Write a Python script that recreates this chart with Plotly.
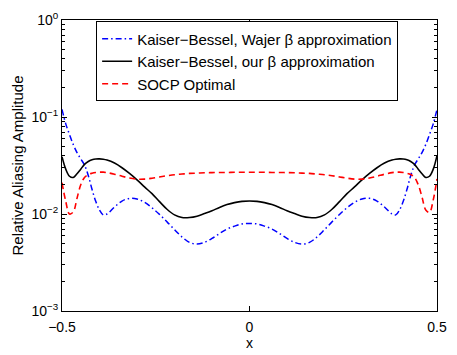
import plotly.graph_objects as go

x_vals = [-0.50, -0.49, -0.48, -0.47, -0.46, -0.45, -0.44, -0.43, -0.42, -0.41,
          -0.40, -0.39, -0.38, -0.36, -0.34, -0.32, -0.30, -0.28, -0.26, -0.24,
          -0.22, -0.20, -0.18, -0.16, -0.14, -0.12, -0.10, -0.08, -0.06, -0.04,
          -0.02, 0.00,
          0.02, 0.04, 0.06, 0.08, 0.10, 0.12, 0.14, 0.16, 0.18, 0.20,
          0.22, 0.24, 0.26, 0.28, 0.30, 0.32, 0.34, 0.36, 0.38, 0.39,
          0.40, 0.41, 0.42, 0.43, 0.44, 0.45, 0.46, 0.47, 0.48, 0.49, 0.50]

kb_wajer = [0.120, 0.085, 0.066, 0.052, 0.043, 0.037, 0.032, 0.025, 0.018, 0.0135,
            0.0110, 0.0098, 0.0100, 0.0118, 0.0136, 0.0145, 0.0143, 0.0132, 0.0116, 0.0099,
            0.0083, 0.0069, 0.0058, 0.0051, 0.0049, 0.0051, 0.0056, 0.0063, 0.0070, 0.0075,
            0.0079, 0.0080,
            0.0079, 0.0075, 0.0070, 0.0063, 0.0056, 0.0051, 0.0049, 0.0051, 0.0058, 0.0069,
            0.0083, 0.0099, 0.0116, 0.0132, 0.0143, 0.0145, 0.0136, 0.0118, 0.0100, 0.0098,
            0.0110, 0.0135, 0.018, 0.025, 0.032, 0.037, 0.043, 0.052, 0.066, 0.085, 0.120]

kb_ours = [0.039, 0.029, 0.0245, 0.0238, 0.026, 0.029, 0.0325, 0.0348, 0.0362, 0.0369,
           0.0370, 0.0367, 0.0360, 0.0335, 0.0300, 0.0262, 0.0225, 0.0190, 0.0162, 0.0134,
           0.0112, 0.0098, 0.0092, 0.0092, 0.0095, 0.0101, 0.0108, 0.0117, 0.0125, 0.0131,
           0.0135, 0.0136,
           0.0135, 0.0131, 0.0125, 0.0117, 0.0108, 0.0101, 0.0095, 0.0092, 0.0092, 0.0098,
           0.0112, 0.0134, 0.0162, 0.0190, 0.0225, 0.0262, 0.0300, 0.0335, 0.0360, 0.0367,
           0.0370, 0.0369, 0.0362, 0.0348, 0.0325, 0.029, 0.026, 0.0238, 0.0245, 0.029, 0.040]

socp = [0.021, 0.0135, 0.0100, 0.0105, 0.0145, 0.020, 0.0238, 0.0255, 0.0263, 0.0268,
        0.0270, 0.0270, 0.0267, 0.0257, 0.0245, 0.0235, 0.0229, 0.0229, 0.0234, 0.0241,
        0.0248, 0.0254, 0.0258, 0.0262, 0.0264, 0.0266, 0.0267, 0.0268, 0.0268, 0.0269,
        0.0269, 0.0269,
        0.0269, 0.0269, 0.0268, 0.0268, 0.0267, 0.0266, 0.0264, 0.0262, 0.0258, 0.0254,
        0.0248, 0.0241, 0.0234, 0.0229, 0.0229, 0.0235, 0.0245, 0.0257, 0.0267, 0.0270,
        0.0270, 0.0268, 0.0263, 0.0255, 0.0238, 0.020, 0.0150, 0.0110, 0.0104, 0.0140, 0.023]

y_tickvals = [0.001, 0.01, 0.1, 1]
y_ticktext = ["10<sup>−3</sup>", "10<sup>−2</sup>", "10<sup>−1</sup>", "10<sup>0</sup>"]
x_tickvals = [-0.5, 0, 0.5]
x_ticktext = ["−0.5", "0", "0.5"]

minor_vals = [m * 10 ** e for e in (-3, -2, -1) for m in range(2, 10)]

fig = go.Figure()
fig.add_trace(go.Scatter(x=x_vals, y=kb_wajer, mode="lines", line_shape="spline",
                         name="Kaiser−Bessel, Wajer β approximation",
                         line=dict(color="#0000ff", width=1.5, dash="6px,3px,1.5px,3px")))
fig.add_trace(go.Scatter(x=x_vals, y=kb_ours, mode="lines", line_shape="spline",
                         name="Kaiser−Bessel, our β approximation",
                         line=dict(color="#000000", width=1.6)))
fig.add_trace(go.Scatter(x=x_vals, y=socp, mode="lines", line_shape="spline",
                         name="SOCP Optimal",
                         line=dict(color="#ff0000", width=1.6, dash="6px,4px")))

font = dict(family="Liberation Sans, Arial, Helvetica, sans-serif", size=14, color="#000")

fig.update_layout(
    width=457, height=355,
    margin=dict(l=62, r=10, t=14, b=37),
    paper_bgcolor="white", plot_bgcolor="white",
    font=font,
    showlegend=True,
    legend=dict(x=0.091, y=0.995, xanchor="left", yanchor="top",
                bgcolor="white", bordercolor="black", borderwidth=1,
                font=dict(size=15), tracegroupgap=0, itemwidth=30,
                entrywidth=285),
    xaxis=dict(range=[-0.5, 0.5], tickvals=x_tickvals, ticktext=x_ticktext,
               ticks="inside", ticklen=5, tickcolor="black",
               showline=True, linecolor="black", linewidth=1, mirror="ticks",
               showgrid=False, zeroline=False, tickfont=dict(size=14),
               ticklabelstandoff=3,
               title=dict(text="x", standoff=0, font=dict(size=14))),
    yaxis=dict(type="log", range=[-3, 0], tickvals=y_tickvals, ticktext=y_ticktext,
               ticks="inside", ticklen=5, tickcolor="black",
               showline=True, linecolor="black", linewidth=1, mirror="ticks",
               showgrid=False, zeroline=False, tickfont=dict(size=14),
               minor=dict(tickvals=minor_vals, ticks="inside", ticklen=3, tickcolor="black"),
               title=dict(text="Relative Aliasing Amplitude", standoff=4, font=dict(size=15))),
)

fig.write_html("out.html")
